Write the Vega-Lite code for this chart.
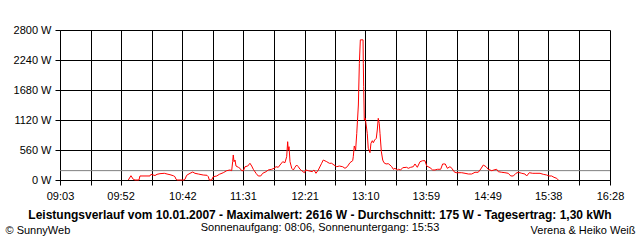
{
  "$schema": "https://vega.github.io/schema/vega-lite/v6.json",
  "width": 550,
  "height": 150,
  "autosize": {"type": "none"},
  "padding": {"left": 60, "top": 30, "right": 30, "bottom": 60},
  "background": "#ffffff",
  "config": {
    "font": "Liberation Sans",
    "view": {"stroke": null},
    "axis": {
      "gridColor": "#000000", "gridOpacity": 1, "gridWidth": 1,
      "tickColor": "#000000", "tickSize": 5, "tickWidth": 1,
      "domainColor": "#000000", "domainWidth": 1,
      "labelColor": "#000000", "labelFontSize": 11, "labelFont": "Liberation Sans",
      "titleColor": "#000000", "titleFontSize": 11, "titleFontWeight": "normal", "titleFont": "Liberation Sans"
    }
  },
  "title": {
    "text": "Leistungsverlauf vom 10.01.2007 - Maximalwert: 2616 W - Durchschnitt: 175 W - Tagesertrag: 1,30 kWh",
    "subtitle": "Sonnenaufgang: 08:06, Sonnenuntergang: 15:53",
    "orient": "bottom",
    "anchor": "middle",
    "dx": -15,
    "fontSize": 12,
    "fontWeight": "bold",
    "color": "#000000",
    "subtitleFontSize": 11,
    "subtitleColor": "#000000",
    "subtitlePadding": 0,
    "offset": -25
  },
  "layer": [
    {
      "data": {"values": [{"average": 175}]},
      "mark": {"type": "rule", "color": "#808080", "strokeWidth": 1},
      "encoding": {
        "y": {
          "field": "average", "type": "quantitative",
          "scale": {"domain": [0, 2800], "nice": false},
          "axis": {
            "values": [0, 560, 1120, 1680, 2240, 2800],
            "labelExpr": "datum.value + ' W'",
            "labelPadding": 4,
            "grid": true,
            "title": "© SunnyWeb",
            "titleAngle": 0,
            "titleX": -55,
            "titleY": 203,
            "titleAlign": "left",
            "titleBaseline": "alphabetic"
          }
        }
      }
    },
    {
      "data": {"values": [
        {"time": "2007-01-10 09:58:18", "power": 0},
        {"time": "2007-01-10 10:00:24", "power": 80},
        {"time": "2007-01-10 10:02:18", "power": 13},
        {"time": "2007-01-10 10:03:42", "power": 0},
        {"time": "2007-01-10 10:06:54", "power": 0},
        {"time": "2007-01-10 10:07:42", "power": 75},
        {"time": "2007-01-10 10:15:48", "power": 75},
        {"time": "2007-01-10 10:16:36", "power": 106},
        {"time": "2007-01-10 10:19:54", "power": 84},
        {"time": "2007-01-10 10:21:30", "power": 106},
        {"time": "2007-01-10 10:23:54", "power": 118},
        {"time": "2007-01-10 10:27:24", "power": 125},
        {"time": "2007-01-10 10:29:36", "power": 112},
        {"time": "2007-01-10 10:32:00", "power": 99},
        {"time": "2007-01-10 10:34:42", "power": 80},
        {"time": "2007-01-10 10:36:00", "power": 62},
        {"time": "2007-01-10 10:36:54", "power": 13},
        {"time": "2007-01-10 10:37:42", "power": 0},
        {"time": "2007-01-10 10:43:18", "power": 0},
        {"time": "2007-01-10 10:44:06", "power": 13},
        {"time": "2007-01-10 10:45:30", "power": 88},
        {"time": "2007-01-10 10:48:12", "power": 125},
        {"time": "2007-01-10 10:50:24", "power": 149},
        {"time": "2007-01-10 10:52:12", "power": 125},
        {"time": "2007-01-10 10:54:54", "power": 112},
        {"time": "2007-01-10 10:58:54", "power": 93},
        {"time": "2007-01-10 11:01:54", "power": 88},
        {"time": "2007-01-10 11:03:00", "power": 62},
        {"time": "2007-01-10 11:03:48", "power": 0},
        {"time": "2007-01-10 11:05:42", "power": 0},
        {"time": "2007-01-10 11:07:00", "power": 62},
        {"time": "2007-01-10 11:09:48", "power": 75},
        {"time": "2007-01-10 11:11:54", "power": 106},
        {"time": "2007-01-10 11:15:06", "power": 136},
        {"time": "2007-01-10 11:17:54", "power": 174},
        {"time": "2007-01-10 11:20:30", "power": 187},
        {"time": "2007-01-10 11:21:54", "power": 174},
        {"time": "2007-01-10 11:22:42", "power": 342},
        {"time": "2007-01-10 11:23:12", "power": 467},
        {"time": "2007-01-10 11:23:48", "power": 342},
        {"time": "2007-01-10 11:24:36", "power": 373},
        {"time": "2007-01-10 11:25:24", "power": 261},
        {"time": "2007-01-10 11:27:18", "power": 237},
        {"time": "2007-01-10 11:28:36", "power": 218},
        {"time": "2007-01-10 11:30:00", "power": 174},
        {"time": "2007-01-10 11:31:24", "power": 174},
        {"time": "2007-01-10 11:32:42", "power": 248},
        {"time": "2007-01-10 11:34:54", "power": 261},
        {"time": "2007-01-10 11:36:42", "power": 312},
        {"time": "2007-01-10 11:38:06", "power": 261},
        {"time": "2007-01-10 11:39:24", "power": 200},
        {"time": "2007-01-10 11:41:36", "power": 125},
        {"time": "2007-01-10 11:43:24", "power": 75},
        {"time": "2007-01-10 11:45:24", "power": 75},
        {"time": "2007-01-10 11:47:00", "power": 125},
        {"time": "2007-01-10 11:49:42", "power": 155},
        {"time": "2007-01-10 11:51:30", "power": 187},
        {"time": "2007-01-10 11:54:18", "power": 200},
        {"time": "2007-01-10 11:56:06", "power": 218},
        {"time": "2007-01-10 11:57:48", "power": 248},
        {"time": "2007-01-10 11:59:36", "power": 237},
        {"time": "2007-01-10 12:01:00", "power": 280},
        {"time": "2007-01-10 12:03:12", "power": 342},
        {"time": "2007-01-10 12:05:00", "power": 323},
        {"time": "2007-01-10 12:06:24", "power": 435},
        {"time": "2007-01-10 12:07:12", "power": 715},
        {"time": "2007-01-10 12:07:42", "power": 560},
        {"time": "2007-01-10 12:08:18", "power": 622},
        {"time": "2007-01-10 12:09:06", "power": 342},
        {"time": "2007-01-10 12:10:30", "power": 218},
        {"time": "2007-01-10 12:11:48", "power": 187},
        {"time": "2007-01-10 12:13:06", "power": 237},
        {"time": "2007-01-10 12:14:30", "power": 280},
        {"time": "2007-01-10 12:15:48", "power": 248},
        {"time": "2007-01-10 12:17:12", "power": 200},
        {"time": "2007-01-10 12:18:36", "power": 174},
        {"time": "2007-01-10 12:20:42", "power": 136},
        {"time": "2007-01-10 12:21:48", "power": 187},
        {"time": "2007-01-10 12:23:54", "power": 174},
        {"time": "2007-01-10 12:27:06", "power": 155},
        {"time": "2007-01-10 12:28:30", "power": 187},
        {"time": "2007-01-10 12:30:06", "power": 125},
        {"time": "2007-01-10 12:32:00", "power": 187},
        {"time": "2007-01-10 12:34:42", "power": 312},
        {"time": "2007-01-10 12:36:00", "power": 373},
        {"time": "2007-01-10 12:38:48", "power": 342},
        {"time": "2007-01-10 12:40:54", "power": 312},
        {"time": "2007-01-10 12:42:48", "power": 312},
        {"time": "2007-01-10 12:44:42", "power": 280},
        {"time": "2007-01-10 12:46:54", "power": 248},
        {"time": "2007-01-10 12:49:00", "power": 261},
        {"time": "2007-01-10 12:51:42", "power": 248},
        {"time": "2007-01-10 12:53:36", "power": 218},
        {"time": "2007-01-10 12:55:24", "power": 248},
        {"time": "2007-01-10 12:57:36", "power": 323},
        {"time": "2007-01-10 12:59:48", "power": 360},
        {"time": "2007-01-10 13:00:18", "power": 435},
        {"time": "2007-01-10 13:01:06", "power": 635},
        {"time": "2007-01-10 13:02:12", "power": 560},
        {"time": "2007-01-10 13:03:06", "power": 871},
        {"time": "2007-01-10 13:04:24", "power": 1400},
        {"time": "2007-01-10 13:05:12", "power": 2178},
        {"time": "2007-01-10 13:06:00", "power": 2616},
        {"time": "2007-01-10 13:08:12", "power": 2616},
        {"time": "2007-01-10 13:08:24", "power": 2178},
        {"time": "2007-01-10 13:08:42", "power": 1742},
        {"time": "2007-01-10 13:09:12", "power": 1120},
        {"time": "2007-01-10 13:10:00", "power": 1151},
        {"time": "2007-01-10 13:10:18", "power": 1100},
        {"time": "2007-01-10 13:11:36", "power": 871},
        {"time": "2007-01-10 13:12:24", "power": 592},
        {"time": "2007-01-10 13:13:48", "power": 510},
        {"time": "2007-01-10 13:14:36", "power": 685},
        {"time": "2007-01-10 13:15:42", "power": 734},
        {"time": "2007-01-10 13:16:30", "power": 696},
        {"time": "2007-01-10 13:17:36", "power": 747},
        {"time": "2007-01-10 13:18:54", "power": 778},
        {"time": "2007-01-10 13:19:42", "power": 933},
        {"time": "2007-01-10 13:20:30", "power": 1151},
        {"time": "2007-01-10 13:21:18", "power": 1058},
        {"time": "2007-01-10 13:21:54", "power": 871},
        {"time": "2007-01-10 13:23:00", "power": 528},
        {"time": "2007-01-10 13:24:06", "power": 373},
        {"time": "2007-01-10 13:25:06", "power": 323},
        {"time": "2007-01-10 13:26:48", "power": 299},
        {"time": "2007-01-10 13:28:36", "power": 305},
        {"time": "2007-01-10 13:30:00", "power": 280},
        {"time": "2007-01-10 13:31:24", "power": 248},
        {"time": "2007-01-10 13:32:42", "power": 200},
        {"time": "2007-01-10 13:34:00", "power": 218},
        {"time": "2007-01-10 13:35:54", "power": 187},
        {"time": "2007-01-10 13:36:42", "power": 200},
        {"time": "2007-01-10 13:38:36", "power": 187},
        {"time": "2007-01-10 13:40:18", "power": 230},
        {"time": "2007-01-10 13:43:30", "power": 237},
        {"time": "2007-01-10 13:44:48", "power": 218},
        {"time": "2007-01-10 13:46:42", "power": 237},
        {"time": "2007-01-10 13:48:48", "power": 248},
        {"time": "2007-01-10 13:50:12", "power": 299},
        {"time": "2007-01-10 13:52:06", "power": 237},
        {"time": "2007-01-10 13:54:18", "power": 342},
        {"time": "2007-01-10 13:56:24", "power": 360},
        {"time": "2007-01-10 13:58:18", "power": 360},
        {"time": "2007-01-10 13:59:42", "power": 261},
        {"time": "2007-01-10 14:02:24", "power": 230},
        {"time": "2007-01-10 14:04:30", "power": 187},
        {"time": "2007-01-10 14:06:24", "power": 187},
        {"time": "2007-01-10 14:08:18", "power": 200},
        {"time": "2007-01-10 14:11:00", "power": 200},
        {"time": "2007-01-10 14:12:36", "power": 299},
        {"time": "2007-01-10 14:14:42", "power": 299},
        {"time": "2007-01-10 14:16:24", "power": 218},
        {"time": "2007-01-10 14:18:30", "power": 248},
        {"time": "2007-01-10 14:20:06", "power": 218},
        {"time": "2007-01-10 14:21:48", "power": 155},
        {"time": "2007-01-10 14:23:24", "power": 136},
        {"time": "2007-01-10 14:28:00", "power": 136},
        {"time": "2007-01-10 14:30:42", "power": 125},
        {"time": "2007-01-10 14:33:24", "power": 112},
        {"time": "2007-01-10 14:36:06", "power": 112},
        {"time": "2007-01-10 14:38:48", "power": 144},
        {"time": "2007-01-10 14:41:24", "power": 144},
        {"time": "2007-01-10 14:43:24", "power": 205},
        {"time": "2007-01-10 14:45:30", "power": 280},
        {"time": "2007-01-10 14:47:42", "power": 248},
        {"time": "2007-01-10 14:49:30", "power": 200},
        {"time": "2007-01-10 14:52:18", "power": 174},
        {"time": "2007-01-10 14:54:06", "power": 187},
        {"time": "2007-01-10 14:56:18", "power": 200},
        {"time": "2007-01-10 14:57:36", "power": 155},
        {"time": "2007-01-10 15:00:24", "power": 144},
        {"time": "2007-01-10 15:03:00", "power": 136},
        {"time": "2007-01-10 15:05:42", "power": 125},
        {"time": "2007-01-10 15:07:42", "power": 75},
        {"time": "2007-01-10 15:09:48", "power": 75},
        {"time": "2007-01-10 15:11:54", "power": 125},
        {"time": "2007-01-10 15:13:48", "power": 144},
        {"time": "2007-01-10 15:16:36", "power": 125},
        {"time": "2007-01-10 15:19:12", "power": 112},
        {"time": "2007-01-10 15:20:36", "power": 75},
        {"time": "2007-01-10 15:22:42", "power": 136},
        {"time": "2007-01-10 15:25:30", "power": 125},
        {"time": "2007-01-10 15:28:06", "power": 125},
        {"time": "2007-01-10 15:31:24", "power": 125},
        {"time": "2007-01-10 15:34:00", "power": 106},
        {"time": "2007-01-10 15:36:48", "power": 93},
        {"time": "2007-01-10 15:38:36", "power": 75},
        {"time": "2007-01-10 15:40:48", "power": 75},
        {"time": "2007-01-10 15:42:42", "power": 50},
        {"time": "2007-01-10 15:44:54", "power": 31},
        {"time": "2007-01-10 15:46:12", "power": 0}
      ]},
      "mark": {"type": "line", "color": "#ff0000", "strokeWidth": 1},
      "encoding": {
        "x": {
          "field": "time", "type": "temporal",
          "scale": {"domain": [
            {"year": 2007, "month": 1, "date": 10, "hours": 9, "minutes": 3},
            {"year": 2007, "month": 1, "date": 10, "hours": 16, "minutes": 28}
          ]},
          "axis": {
            "values": [
              {"year": 2007, "month": 1, "date": 10, "hours": 9, "minutes": 3, "seconds": 0},
              {"year": 2007, "month": 1, "date": 10, "hours": 9, "minutes": 27, "seconds": 43},
              {"year": 2007, "month": 1, "date": 10, "hours": 9, "minutes": 52, "seconds": 0},
              {"year": 2007, "month": 1, "date": 10, "hours": 10, "minutes": 17, "seconds": 10},
              {"year": 2007, "month": 1, "date": 10, "hours": 10, "minutes": 42, "seconds": 0},
              {"year": 2007, "month": 1, "date": 10, "hours": 11, "minutes": 6, "seconds": 37},
              {"year": 2007, "month": 1, "date": 10, "hours": 11, "minutes": 31, "seconds": 0},
              {"year": 2007, "month": 1, "date": 10, "hours": 11, "minutes": 56, "seconds": 3},
              {"year": 2007, "month": 1, "date": 10, "hours": 12, "minutes": 21, "seconds": 0},
              {"year": 2007, "month": 1, "date": 10, "hours": 12, "minutes": 45, "seconds": 30},
              {"year": 2007, "month": 1, "date": 10, "hours": 13, "minutes": 10, "seconds": 0},
              {"year": 2007, "month": 1, "date": 10, "hours": 13, "minutes": 34, "seconds": 57},
              {"year": 2007, "month": 1, "date": 10, "hours": 13, "minutes": 59, "seconds": 0},
              {"year": 2007, "month": 1, "date": 10, "hours": 14, "minutes": 24, "seconds": 23},
              {"year": 2007, "month": 1, "date": 10, "hours": 14, "minutes": 49, "seconds": 0},
              {"year": 2007, "month": 1, "date": 10, "hours": 15, "minutes": 13, "seconds": 50},
              {"year": 2007, "month": 1, "date": 10, "hours": 15, "minutes": 38, "seconds": 0},
              {"year": 2007, "month": 1, "date": 10, "hours": 16, "minutes": 3, "seconds": 17},
              {"year": 2007, "month": 1, "date": 10, "hours": 16, "minutes": 28, "seconds": 0}
            ],
            "labelExpr": "seconds(datum.value) == 0 ? timeFormat(datum.value, '%H:%M') : ''",
            "labelOverlap": false,
            "labelFlush": false,
            "labelPadding": 5,
            "grid": true,
            "title": "Verena & Heiko Weiß",
            "titleX": 575,
            "titleY": 53,
            "titleAlign": "right",
            "titleBaseline": "alphabetic"
          }
        },
        "y": {
          "field": "power", "type": "quantitative",
          "scale": {"domain": [0, 2800], "nice": false},
          "axis": {
            "values": [0, 560, 1120, 1680, 2240, 2800],
            "labelExpr": "datum.value + ' W'",
            "labelPadding": 4,
            "grid": true,
            "title": "© SunnyWeb",
            "titleAngle": 0,
            "titleX": -55,
            "titleY": 203,
            "titleAlign": "left",
            "titleBaseline": "alphabetic"
          }
        }
      }
    }
  ]
}
